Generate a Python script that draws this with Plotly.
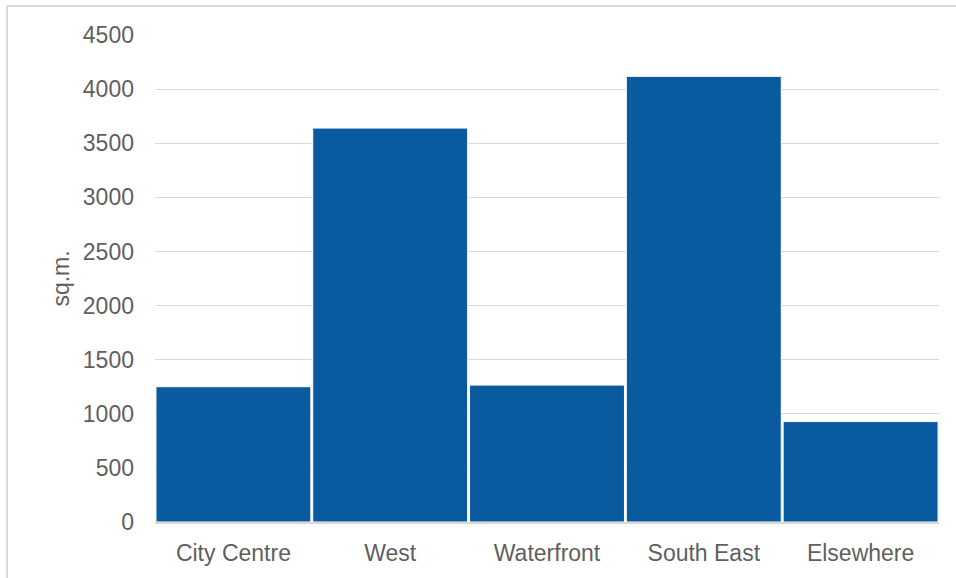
import plotly.graph_objects as go

categories = ["City Centre", "West", "Waterfront", "South East", "Elsewhere"]
values = [1250, 3640, 1265, 4118, 928]
y_ticks = [0, 500, 1000, 1500, 2000, 2500, 3000, 3500, 4000, 4500]

W, H = 956, 578
L, R, T, B = 155, 17, 35, 56
pw, ph = W - L - R, H - T - B

def px_x(p):
    return (p - L) / pw

def px_y(p):
    return (H - B - p) / ph

fig = go.Figure(go.Bar(
    x=categories, y=values,
    marker=dict(color="#0a5aa0", line=dict(color="white", width=1)),
    hoverinfo="x+y",
))

fig.update_layout(
    width=W, height=H,
    margin=dict(l=L, r=R, t=T, b=B, autoexpand=False),
    paper_bgcolor="white", plot_bgcolor="white",
    bargap=0.012,
    showlegend=False,
    font=dict(family="Liberation Sans, Arial, sans-serif", size=23, color="#5f5f5f"),
    shapes=[
        dict(type="line", xref="paper", yref="paper",
             x0=px_x(7), x1=px_x(970), y0=px_y(6), y1=px_y(6),
             line=dict(color="#d9d9d9", width=2)),
        dict(type="line", xref="paper", yref="paper",
             x0=px_x(7), x1=px_x(7), y0=px_y(6), y1=px_y(590),
             line=dict(color="#d9d9d9", width=2)),
    ],
)

fig.update_yaxes(
    range=[0, 4500], tickvals=y_ticks, ticktext=[str(v) for v in y_ticks],
    showgrid=True, gridcolor="#d9d9d9", gridwidth=1.3,
    zeroline=False, showline=False,
    ticklabelstandoff=20,
    title=dict(text="sq.m.", standoff=6, font=dict(size=23, color="#5f5f5f")),
)
fig.update_xaxes(
    showline=True, linecolor="#d9d9d9", linewidth=1.5,
    showgrid=False, ticks="", ticklabelstandoff=10,
)

fig.write_html(
    "out.html",
    config={"displayModeBar": False},
    post_script="document.body.style.margin='0';document.body.style.overflow='hidden';",
)
